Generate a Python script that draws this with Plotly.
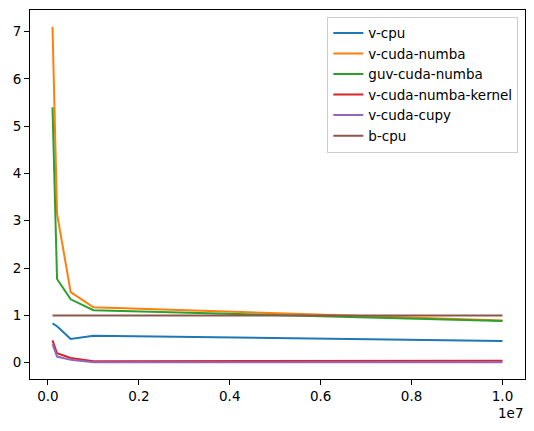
import plotly.graph_objects as go

x_sizes = [1e5, 2e5, 5e5, 1e6, 1e7]
v_cpu = [0.83, 0.77, 0.50, 0.57, 0.46]
v_cuda_numba = [7.1, 3.15, 1.49, 1.17, 0.89]
guv_cuda_numba = [5.4, 1.77, 1.34, 1.11, 0.88]
v_cuda_numba_kernel = [0.47, 0.20, 0.10, 0.03, 0.04]
v_cuda_cupy = [0.39, 0.13, 0.06, 0.01, 0.01]
b_cpu = [1.0, 1.0, 1.0, 1.0, 1.0]

series = [
    ("v-cpu", v_cpu, "#1f77b4"),
    ("v-cuda-numba", v_cuda_numba, "#ff7f0e"),
    ("guv-cuda-numba", guv_cuda_numba, "#2ca02c"),
    ("v-cuda-numba-kernel", v_cuda_numba_kernel, "#d62728"),
    ("v-cuda-cupy", v_cuda_cupy, "#9467bd"),
    ("b-cpu", b_cpu, "#8c564b"),
]

xtick_vals = [0, 2e6, 4e6, 6e6, 8e6, 1e7]
xtick_text = ["0.0", "0.2", "0.4", "0.6", "0.8", "1.0"]
ytick_vals = [0, 1, 2, 3, 4, 5, 6, 7]

fig = go.Figure()
for name, ys, color in series:
    fig.add_trace(go.Scatter(x=x_sizes, y=ys, mode="lines", name=name,
                             line=dict(color=color, width=2)))

allv = [v for _, ys, _ in series for v in ys]
ymin, ymax = min(allv), max(allv)
ypad = 0.05 * (ymax - ymin)
xmin, xmax = min(x_sizes), max(x_sizes)
xpad = 0.05 * (xmax - xmin)

font = dict(family="DejaVu Sans", size=13.5, color="black")
fig.update_layout(
    width=534, height=431,
    margin=dict(l=30, r=9, t=10, b=52),
    paper_bgcolor="white", plot_bgcolor="white",
    font=font,
    showlegend=True,
    legend=dict(x=0.9865, y=0.982, xanchor="right", yanchor="top",
                bgcolor="rgba(255,255,255,0.8)", bordercolor="#cccccc", borderwidth=1,
                font=dict(family="DejaVu Sans", size=13.5, color="black"),
                tracegroupgap=0),
    xaxis=dict(range=[xmin - xpad, xmax + xpad], tickvals=xtick_vals, ticktext=xtick_text,
               showgrid=False, zeroline=False, showline=True, mirror=True,
               linecolor="black", linewidth=1, ticks="outside", ticklen=5,
               tickcolor="black", tickwidth=1),
    yaxis=dict(range=[ymin - ypad, ymax + ypad], tickvals=ytick_vals,
               showgrid=False, zeroline=False, showline=True, mirror=True,
               linecolor="black", linewidth=1, ticks="outside", ticklen=5,
               tickcolor="black", tickwidth=1),
    annotations=[dict(text="1e7", xref="paper", yref="paper", x=1, y=-0.092,
                      xanchor="right", yanchor="middle", showarrow=False,
                      font=dict(family="DejaVu Sans", size=13.5, color="black"))],
)

fig.write_html("out.html")
